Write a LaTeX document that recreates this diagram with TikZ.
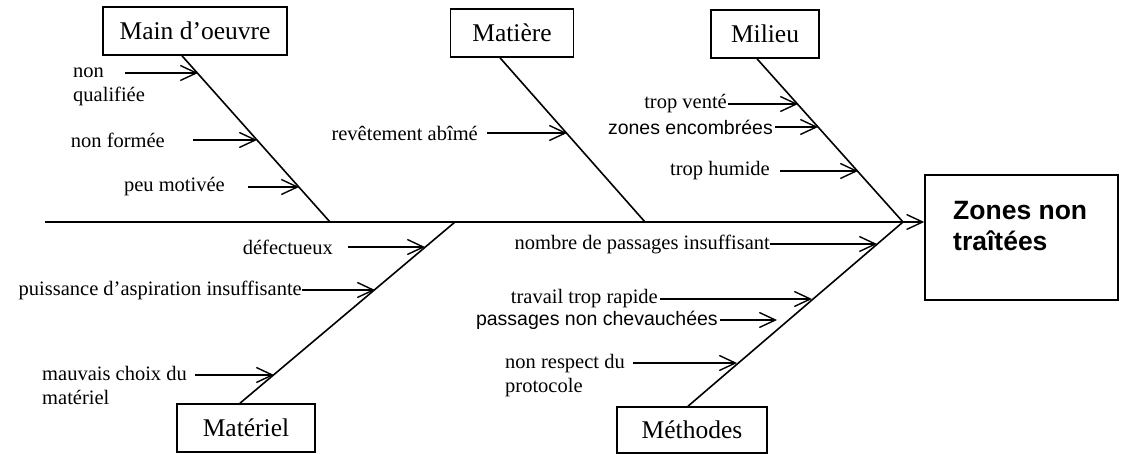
\documentclass[tikz,border=0pt]{standalone}
\usepackage{fontspec}
\setmainfont{Liberation Serif}
\newfontfamily\sansfont{Liberation Sans}
\usetikzlibrary{arrows.meta,positioning,calc}
\newcommand{\causefont}{\fontsize{20.5}{24}\selectfont}
\newcommand{\addfont}{\fontsize{19.5}{23}\selectfont}
\newcommand{\boxfont}{\fontsize{25.5}{30}\selectfont}

\begin{document}
\begin{tikzpicture}[x=1pt,y=-1pt,
    catbox/.style={draw, line width=1.6pt, minimum height=48pt, inner sep=0pt, font=\boxfont},
    bone/.style={line width=1.6pt},
    cause/.style={line width=1.4pt, -{Straight Barb[length=16pt,width=15pt,line width=1.4pt]}},
    lbl/.style={inner sep=0pt, font=\causefont, anchor=east},
    lbltwo/.style={inner sep=0pt, font=\causefont, align=left, anchor=north west},
    addlbl/.style={inner sep=0pt, font=\sansfont\addfont, anchor=east}]
\useasboundingbox (0,0) rectangle (1121,454);

% effect and spine
\node[draw, line width=1.6pt, minimum width=193pt, minimum height=125pt] (effect) at (1021.5,237.5) {};
\node[anchor=west, align=left, inner sep=0pt, font=\sansfont\bfseries\fontsize{26.5}{31}\selectfont] (efftxt) at (953,226.5) {Zones non\\traîtées};
\coordinate (tail) at (45,222);
\draw[bone, -{Straight Barb[length=16pt,width=15pt,line width=1.4pt]}] (tail) -- (tail -| effect.west);

% categories
\node[catbox, minimum width=184pt] (mo) at (195,31) {Main d'oeuvre};
\node[catbox, minimum width=123pt] (mt) at (512,33) {Matière};
\node[catbox, minimum width=108pt] (mi) at (765,34) {Milieu};
\node[catbox, minimum width=138pt] (ml) at (246,428) {Matériel};
\node[catbox, minimum width=150pt, minimum height=46pt] (me) at (692,430) {Méthodes};

\coordinate (j1) at (330,222);
\coordinate (j2) at (645,222);
\coordinate (j3) at (903,222);
\coordinate (j4) at (455,222);
\draw[bone] ([xshift=-13pt]mo.south) -- (j1);
\draw[bone] ([xshift=-12pt]mt.south) -- (j2);
\draw[bone] ([xshift=-8pt]mi.south) -- (j3);
\draw[bone] ([xshift=-6pt]ml.north) -- (j4);
\draw[bone] ([xshift=-4pt]me.north) -- (j3);

% Main d'oeuvre
\node[lbltwo] (nq) at (73,68) {non\\qualifiée};
\coordinate (nq-s) at (125,73);
\coordinate (nq-t) at (198,73);
\draw[cause] (nq-s) -- (nq-t);
\node[lbl] (nf) at (165,140) {non formée};
\coordinate (nf-t) at (257,140);
\draw[cause, shorten <=28pt] (nf) -- (nf-t);
\node[lbl] (pm) at (225,187) {peu motivée};
\coordinate (pm-t) at (299,187);
\draw[cause, shorten <=23pt] (pm) -- (pm-t);

% Matiere
\node[lbl] (ra) at (478,133) {revêtement abîmé};
\coordinate (ra-t) at (567,133);
\draw[cause, shorten <=9pt] (ra) -- (ra-t);

% Milieu
\node[lbl] (tv) at (727,104) {trop venté};
\coordinate (tv-t) at (798,104);
\draw[cause, shorten <=1pt] (tv) -- (tv-t);
\node[addlbl] (ze) at (773,127) {zones encombrées};
\coordinate (ze-t) at (818,127);
\draw[cause, shorten <=2pt] (ze) -- (ze-t);
\node[lbl] (th) at (770,171) {trop humide};
\coordinate (th-t) at (858,171);
\draw[cause, shorten <=10pt] (th) -- (th-t);

% Materiel
\node[lbl] (df) at (333,247) {défectueux};
\coordinate (df-t) at (425,247);
\draw[cause, shorten <=15pt] (df) -- (df-t);
\node[lbl] (pa) at (302,290) {puissance d'aspiration insuffisante};
\coordinate (pa-t) at (375,290);
\draw[cause] (pa) -- (pa-t);
\node[lbltwo] (mc) at (42,366) {mauvais choix du\\matériel};
\coordinate (mc-s) at (195,375);
\coordinate (mc-t) at (274,375);
\draw[cause] (mc-s) -- (mc-t);

% Methodes
\node[lbl] (np) at (770,244) {nombre de passages insuffisant};
\coordinate (np-t) at (877,244);
\draw[cause] (np) -- (np-t);
\node[lbl] (tr) at (658,299) {travail trop rapide};
\coordinate (tr-t) at (812,299);
\draw[cause, shorten <=2pt] (tr) -- (tr-t);
\node[addlbl] (pc) at (718,320) {passages non chevauchées};
\coordinate (pc-t) at (777,320);
\draw[cause, shorten <=2pt] (pc) -- (pc-t);
\node[lbltwo] (rp) at (505,354) {non respect du\\protocole};
\coordinate (rp-s) at (633,363);
\coordinate (rp-t) at (737,363);
\draw[cause] (rp-s) -- (rp-t);
\end{tikzpicture}
\end{document}
